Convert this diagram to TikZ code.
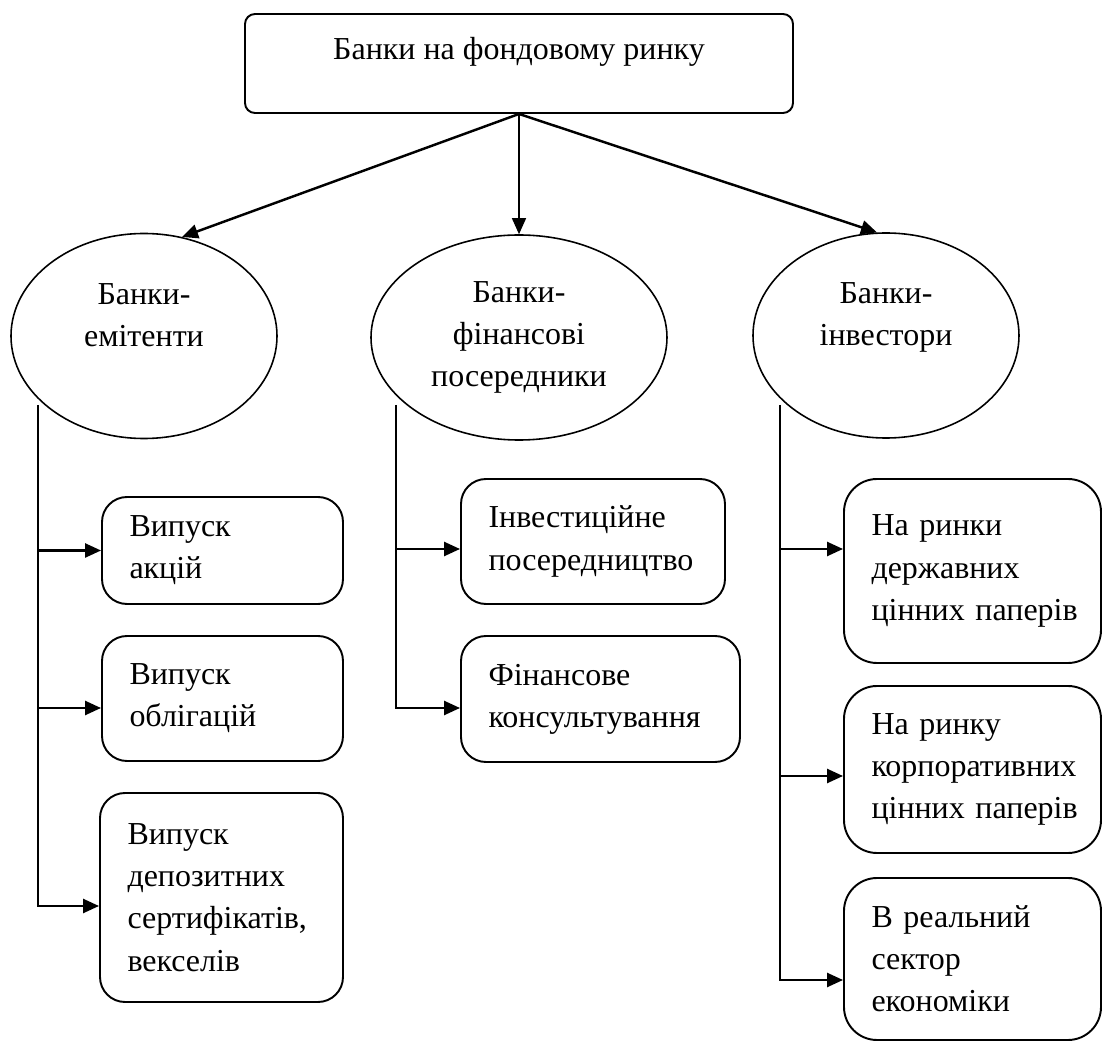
\documentclass[tikz,border=0pt]{standalone}
\usepackage{fontspec}
\setmainfont{Liberation Serif}
\usetikzlibrary{shapes.geometric, arrows.meta, positioning, calc}
\hyphenpenalty=10000
\newcommand{\schemefont}{\fontsize{18.2}{24}\selectfont}
\tikzset{
  topbox/.style={
    draw, rounded corners=0.2cm, line width=1.1pt,
    minimum width=10.96cm, minimum height=1.98cm,
    font=\schemefont, text height=0.44cm, text depth=0.58cm,
  },
  bankoval/.style={
    draw, ellipse, line width=0.9pt, inner sep=0pt,
    minimum width=#1, minimum height=4.1cm,
    align=center, font=\schemefont,
  },
  bankoval/.default=5.32cm,
  itembox/.style={
    draw, rounded corners=#1, line width=1.1pt,
    inner xsep=0.55cm, inner ysep=0pt,
    align=left, font=\schemefont,
  },
  itembox/.default=0.5cm,
  arw/.style={-{Triangle[length=0.32cm, width=0.28cm]}, line width=#1},
  arw/.default=1.4pt,
}
\begin{document}
\begin{tikzpicture}

  \useasboundingbox (0,0) rectangle (22.04,-20.82);

  % Top box
  \node[topbox] (banks) at (10.38,-1.27) {Банки на фондовому ринку};

  % Three kinds of banks
  \node[bankoval] (emit) at (2.88,-6.72) {Банки-\\емітенти\\\mbox{}};
  \node[bankoval=5.92cm] (fin) at (10.38,-6.75) {Банки-\\фінансові\\посередники};
  \node[bankoval] (inv) at (17.72,-6.71) {Банки-\\інвестори\\\mbox{}};

  \draw[arw=1.4pt] (banks.south) -- (emit.69);
  \draw[arw=0.8pt] (banks.south) -- (fin.north);
  \draw[arw=1.4pt] (banks.south) -- (inv.95);

  % Issuers
  \node[itembox, text width=3.72cm, minimum height=2.14cm] (shares) at (4.45,-11.01)
    {Випуск\\акцій};
  \node[itembox, text width=3.72cm, minimum height=2.5cm] (bonds) at (4.45,-13.97)
    {Випуск\\облігацій};
  \node[itembox, text width=3.76cm, minimum height=4.18cm] (certs) at (4.43,-17.95)
    {Випуск\\депозитних\\сертифікатів,\\векселів};

  \coordinate (emitline) at (0.76,-8.1);
  \coordinate (bondsin) at ([yshift=-0.19cm]bonds.west);
  \coordinate (certsin) at ([yshift=-0.17cm]certs.west);
  \draw[arw] (emitline |- shares.west) -- (shares.west);
  \draw[arw] (emitline |- bondsin) -- (bondsin);
  \draw[arw] (emitline) |- (certsin);

  % Intermediaries
  \node[itembox, text width=4.18cm, minimum height=2.5cm] (invmed) at (11.86,-10.83)
    {Інвестиційне\\посередництво};
  \node[itembox, text width=4.48cm, minimum height=2.52cm] (consult) at (12.01,-13.98)
    {Фінансове\\консультування};

  \coordinate (finline) at (7.92,-8.1);
  \coordinate (invmedin) at ([yshift=-0.15cm]invmed.west);
  \coordinate (consultin) at ([yshift=-0.18cm]consult.west);
  \draw[arw] (finline |- invmedin) -- (invmedin);
  \draw[arw] (finline) |- (consultin);

  % Investors
  \node[itembox=0.66cm, text width=4.04cm, minimum height=3.68cm] (govt) at (19.45,-11.42)
    {На ринки\\державних\\\mbox{цінних паперів}};
  \node[itembox=0.66cm, text width=4.04cm, minimum height=3.34cm] (corp) at (19.45,-15.39)
    {На ринку\\корпоративних\\\mbox{цінних паперів}};
  \node[itembox=0.66cm, text width=4.04cm, minimum height=3.24cm] (real) at (19.45,-19.18)
    {В реальний\\сектор\\економіки};

  \coordinate (invline) at (15.6,-8.1);
  \coordinate (govtin) at ([yshift=0.44cm]govt.west);
  \coordinate (corpin) at ([yshift=-0.13cm]corp.west);
  \coordinate (realin) at ([yshift=-0.42cm]real.west);
  \draw[arw] (invline |- govtin) -- (govtin);
  \draw[arw] (invline |- corpin) -- (corpin);
  \draw[arw] (invline) |- (realin);

\end{tikzpicture}
\end{document}
